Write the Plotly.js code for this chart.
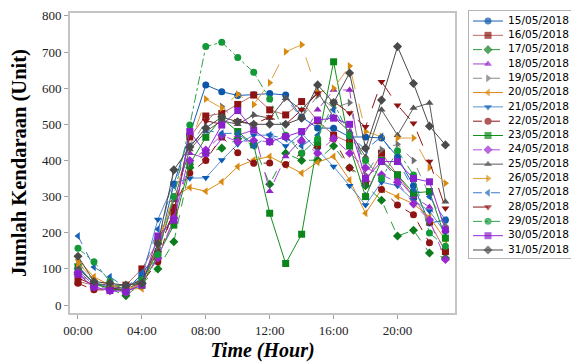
<!DOCTYPE html>
<html>
<head>
<meta charset="utf-8">
<script src="https://cdn.plot.ly/plotly-3.0.1.min.js"></script>
<style>html,body{margin:0;padding:0;background:#fff;}#chart{width:571px;height:362px;}</style>
</head>
<body>
<div id="chart"></div>
<script>
// Hours 00:00 .. 23:00
const hours = Array.from({length: 24}, (_, i) => i);
const tickVals = [0, 4, 8, 12, 16, 20];
const tickText = ["00:00", "04:00", "08:00", "12:00", "16:00", "20:00"];

const seriesNames = ["15/05/2018","16/05/2018","17/05/2018","18/05/2018","19/05/2018","20/05/2018",
  "21/05/2018","22/05/2018","23/05/2018","24/05/2018","25/05/2018","26/05/2018","27/05/2018",
  "28/05/2018","29/05/2018","30/05/2018","31/05/2018"];

const d15 = [100, 62, 48, 42, 85, 150, 335, 470, 609, 590, 580, 582, 585, 581, 520, 490, 489, 465, 465, 462, 410, 330, 227, 235];
const d16 = [65, 55, 50, 55, 100, 175, 250, 465, 523, 530, 555, 581, 540, 526, 563, 510, 470, 450, 340, 420, 360, 300, 230, 148];
const d17 = [85, 60, 45, 26, 60, 100, 175, 380, 420, 434, 460, 443, 334, 420, 400, 401, 440, 380, 330, 290, 191, 207, 144, 130];
const d18 = [95, 55, 42, 40, 60, 130, 235, 420, 406, 460, 470, 484, 315, 411, 460, 540, 595, 595, 304, 400, 350, 300, 271, 208];
const d19 = [120, 65, 60, 50, 70, 160, 370, 437, 507, 549, 507, 526, 517, 572, 517, 580, 545, 560, 360, 430, 445, 400, 304, 219];
const d20 = [125, 78, 55, 45, 45, 166, 300, 325, 315, 341, 383, 401, 411, 387, 365, 395, 411, 346, 254, 320, 300, 280, 244, 180];
const d21 = [110, 58, 50, 48, 75, 237, 337, 351, 352, 401, 445, 470, 470, 440, 475, 430, 383, 330, 277, 340, 330, 290, 260, 200];
const d22 = [60, 42, 42, 45, 62, 120, 270, 365, 400, 466, 421, 392, 393, 389, 420, 440, 460, 380, 350, 320, 277, 250, 172, 148];
const d23 = [105, 60, 45, 38, 55, 140, 221, 390, 464, 517, 480, 443, 254, 115, 196, 450, 673, 440, 300, 400, 360, 310, 314, 185];
const d24 = [90, 50, 40, 35, 60, 130, 240, 400, 429, 470, 452, 455, 452, 466, 452, 420, 461, 420, 380, 360, 340, 280, 235, 126];
const d25 = [105, 60, 55, 55, 65, 150, 290, 430, 480, 510, 500, 526, 517, 572, 540, 590, 520, 480, 410, 540, 470, 545, 559, 286];
const d26 = [115, 70, 55, 45, 55, 175, 300, 440, 570, 545, 583, 555, 615, 701, 720, 587, 600, 661, 480, 466, 462, 462, 380, 337];
const d27 = [191, 105, 78, 48, 90, 210, 330, 440, 484, 475, 475, 440, 470, 460, 440, 470, 540, 470, 430, 466, 400, 320, 300, 235];
const d28 = [75, 55, 45, 50, 70, 145, 260, 470, 510, 500, 510, 500, 520, 500, 540, 586, 563, 531, 493, 618, 553, 503, 397, 268];
const d29 = [157, 120, 65, 40, 70, 140, 300, 498, 715, 727, 685, 644, 570, 470, 420, 460, 560, 470, 400, 350, 427, 360, 199, 163];
const d30 = [85, 50, 40, 38, 55, 191, 235, 480, 420, 498, 538, 484, 452, 466, 480, 512, 517, 500, 350, 397, 397, 350, 341, 208];
const d31 = [135, 65, 60, 55, 60, 170, 374, 437, 490, 520, 507, 500, 500, 500, 517, 609, 560, 642, 434, 567, 715, 613, 495, 443];

const seriesValues = [d15,d16,d17,d18,d19,d20,d21,d22,d23,d24,d25,d26,d27,d28,d29,d30,d31];

const styles = [
  {lc:"#1a5fb4", mc:"#0b56a8", dash:"solid", sym:"circle"},
  {lc:"#b86a6a", mc:"#8e1414", dash:"solid", sym:"square"},
  {lc:"#2d9a3a", mc:"#0c7c1c", dash:"dash", sym:"diamond"},
  {lc:"#a43fd0", mc:"#9226c4", dash:"longdash", sym:"triangle-up"},
  {lc:"#8a8a8a", mc:"#6e6e6e", dash:"dash", sym:"triangle-right"},
  {lc:"#d98a10", mc:"#d98a10", dash:"solid", sym:"triangle-left"},
  {lc:"#5a8fd0", mc:"#0b5cb5", dash:"solid", sym:"triangle-down"},
  {lc:"#8e1414", mc:"#8e1414", dash:"dash", sym:"circle"},
  {lc:"#14901e", mc:"#0b861a", dash:"solid", sym:"square"},
  {lc:"#b44ee0", mc:"#9a2ad0", dash:"dash", sym:"diamond"},
  {lc:"#5a5a5a", mc:"#555555", dash:"solid", sym:"triangle-up"},
  {lc:"#e0a040", mc:"#d98a10", dash:"longdash", sym:"triangle-right"},
  {lc:"#3a78c8", mc:"#1a62b8", dash:"dash", sym:"triangle-left"},
  {lc:"#8e1414", mc:"#8e1414", dash:"longdash", sym:"triangle-down"},
  {lc:"#30a050", mc:"#139a38", dash:"dashdot", sym:"circle"},
  {lc:"#9426d6", mc:"#8a20cc", dash:"solid", sym:"square"},
  {lc:"#4a4a4a", mc:"#4a4a4a", dash:"solid", sym:"diamond"}
];

// data traces (main axes)
const traces = seriesNames.map((name, i) => ({
  type: "scatter",
  mode: "lines+markers",
  name: name,
  x: hours,
  y: seriesValues[i],
  line: {color: styles[i].lc, width: 1, dash: styles[i].dash},
  marker: {color: styles[i].mc, size: 7, symbol: styles[i].sym, line: {width: 0}},
  showlegend: false
}));

// compact legend drawn on its own small axes (x2/y2): one row per series index
const keyX = [4, 19, 34];
const labelX = [39];
seriesNames.forEach((name, i) => {
  traces.push({
    type: "scatter",
    mode: "lines+markers",
    xaxis: "x2", yaxis: "y2",
    x: keyX,
    y: keyX.map(() => i),
    line: {color: styles[i].lc, width: 1, dash: styles[i].dash},
    marker: {color: styles[i].mc, size: [0, 7, 0], symbol: styles[i].sym, line: {width: 0}},
    showlegend: false, hoverinfo: "skip", cliponaxis: false
  });
  traces.push({
    type: "scatter",
    mode: "text",
    xaxis: "x2", yaxis: "y2",
    x: labelX,
    y: labelX.map(() => i),
    text: [name],
    textposition: "middle right",
    textfont: {family: "DejaVu Sans", size: 10.6, color: "#000"},
    showlegend: false, hoverinfo: "skip", cliponaxis: false
  });
});

const layout = {
  width: 571, height: 362,
  margin: {l: 70, r: 0, t: 11, b: 49},
  paper_bgcolor: "#fff", plot_bgcolor: "#fff",
  showlegend: false,
  xaxis: {
    domain: [0, 0.7685],
    range: [-0.5, 23.6],
    tickvals: tickVals, ticktext: tickText,
    ticks: "outside", ticklen: 4, tickcolor: "#a0a0a0",
    showline: true, mirror: true, linecolor: "#c4c4c4", linewidth: 2,
    showgrid: false, zeroline: false,
    tickfont: {family: "Liberation Serif", size: 13, color: "#222"},
    title: {text: "<b><i>Time (Hour)</i></b>", font: {family: "Liberation Serif", size: 20, color: "#000"}, standoff: 8}
  },
  yaxis: {
    domain: [0, 0.9934],
    range: [-22, 808],
    tickvals: [0,100,200,300,400,500,600,700,800],
    ticks: "outside", ticklen: 4, tickcolor: "#a0a0a0",
    showline: true, mirror: true, linecolor: "#c4c4c4", linewidth: 2,
    showgrid: false, zeroline: false,
    tickfont: {family: "Liberation Serif", size: 13, color: "#222"},
    title: {text: "<b>Jumlah Kendaraan (Unit)</b>", font: {family: "Liberation Serif", size: 20.5, color: "#000"}, standoff: 10}
  },
  xaxis2: {
    anchor: "y2", domain: [0.7964, 1.0], range: [0, 102],
    showline: true, mirror: true, linecolor: "#b4b4b4", linewidth: 1,
    showgrid: false, zeroline: false, showticklabels: false, ticks: ""
  },
  yaxis2: {
    anchor: "x2", domain: [0.1821, 1], range: [16.56, -0.70],
    showline: true, mirror: true, linecolor: "#b4b4b4", linewidth: 1,
    showgrid: false, zeroline: false, showticklabels: false, ticks: ""
  }
};

Plotly.newPlot("chart", traces, layout, {displayModeBar: false, staticPlot: true});
</script>
</body>
</html>
